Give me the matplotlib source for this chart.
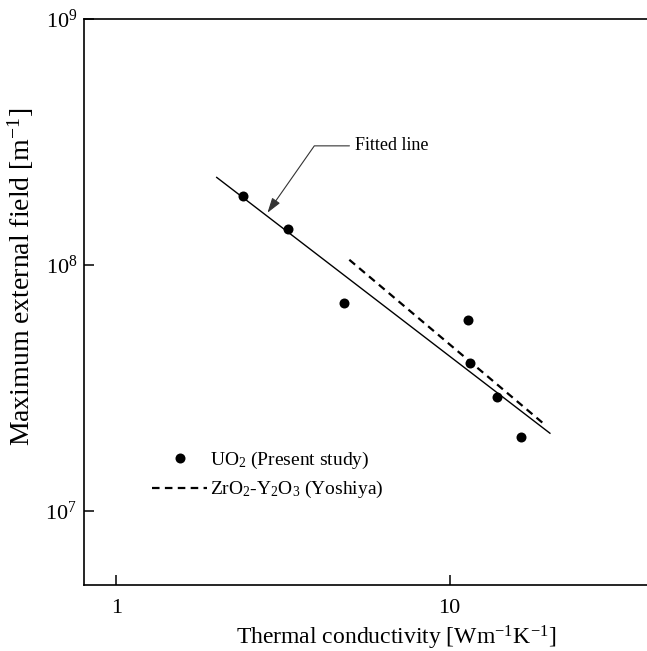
import numpy as np
import matplotlib
matplotlib.use("Agg")
import matplotlib.pyplot as plt
from matplotlib.lines import Line2D

plt.rcParams["font.family"] = ["Liberation Serif", "DejaVu Serif"]
plt.rcParams["mathtext.fontset"] = "custom"
plt.rcParams["mathtext.rm"] = "Liberation Serif"
plt.rcParams["mathtext.default"] = "regular"

# UO2 measurements (present study)
uo2_k = [2.40, 3.27, 4.81, 11.35, 11.48, 13.87, 16.33]
uo2_field = [1.90e8, 1.40e8, 7.0e7, 6.0e7, 4.0e7, 2.9e7, 2.0e7]

# fitted line end points
fit_k = [2.0, 20.0]
fit_field = [2.27e8, 2.07e7]

# ZrO2-Y2O3 (Yoshiya)
zr_k = [5.0, 19.1]
zr_field = [1.05e8, 2.27e7]

fig = plt.figure(figsize=(6.47, 6.51), dpi=100)
ax = fig.add_axes([0.130, 0.1014, 0.875, 0.8694])

ax.plot(fit_k, fit_field, color="black", lw=1.0)
ax.plot(zr_k, zr_field, color="black", lw=1.6, linestyle=(0, (3.4, 2.4)))
ax.plot(uo2_k, uo2_field, "o", color="black", ms=7.2, markeredgewidth=0)

ax.set_xscale("log")
ax.set_yscale("log")
ax.set_xlim(0.8, 40)
ax.set_ylim(5e6, 1e9)

ax.set_xticks([1, 10])
ax.set_xticklabels(["1", "10"])
ax.set_yticks([1e7, 1e8, 1e9])
ax.set_yticklabels([r"10$^7$", r"10$^8$", r"10$^9$"])
ax.minorticks_off()
ax.tick_params(axis="both", direction="in", length=7, width=1.1, labelsize=16)
ax.tick_params(axis="x", pad=10)
ax.tick_params(axis="y", pad=5)

ax.spines["right"].set_visible(False)
for s in ["left", "top", "bottom"]:
    ax.spines[s].set_linewidth(1.2)

ax.set_xlabel(r"Thermal conductivity [Wm$^{-1}$K$^{-1}$]", fontsize=17)
ax.xaxis.set_label_coords(0.552, -0.068)
ax.set_ylabel(r"Maximum external field [m$^{-1}$]", fontsize=20)
ax.yaxis.set_label_coords(-0.085, 0.544)

ax.annotate("Fitted line", xy=(2.84, 1.63e8), xytext=(5.2, 3.05e8),
            fontsize=13, ha="left", va="center",
            arrowprops=dict(arrowstyle="-|>,head_length=0.7,head_width=0.22",
                            connectionstyle="angle,angleA=0,angleB=55,rad=0",
                            color="#333333", lw=0.8, shrinkA=2, shrinkB=0))

handles = [Line2D([], [], marker="o", color="black", ls="none", ms=7.2, markeredgewidth=0),
           Line2D([], [], color="black", lw=1.6, linestyle=(0, (3.4, 2.4)))]
labels = [r"UO$_2$ (Present study)", r"ZrO$_2$-Y$_2$O$_3$ (Yoshiya)"]
ax.legend(handles, labels, loc="upper left", bbox_to_anchor=(0.120, 0.2394),
          frameon=False, fontsize=14, borderpad=0, borderaxespad=0,
          handlelength=2.83, handletextpad=0.15, labelspacing=0.45, numpoints=1)

fig.savefig("out.png", dpi=100)
